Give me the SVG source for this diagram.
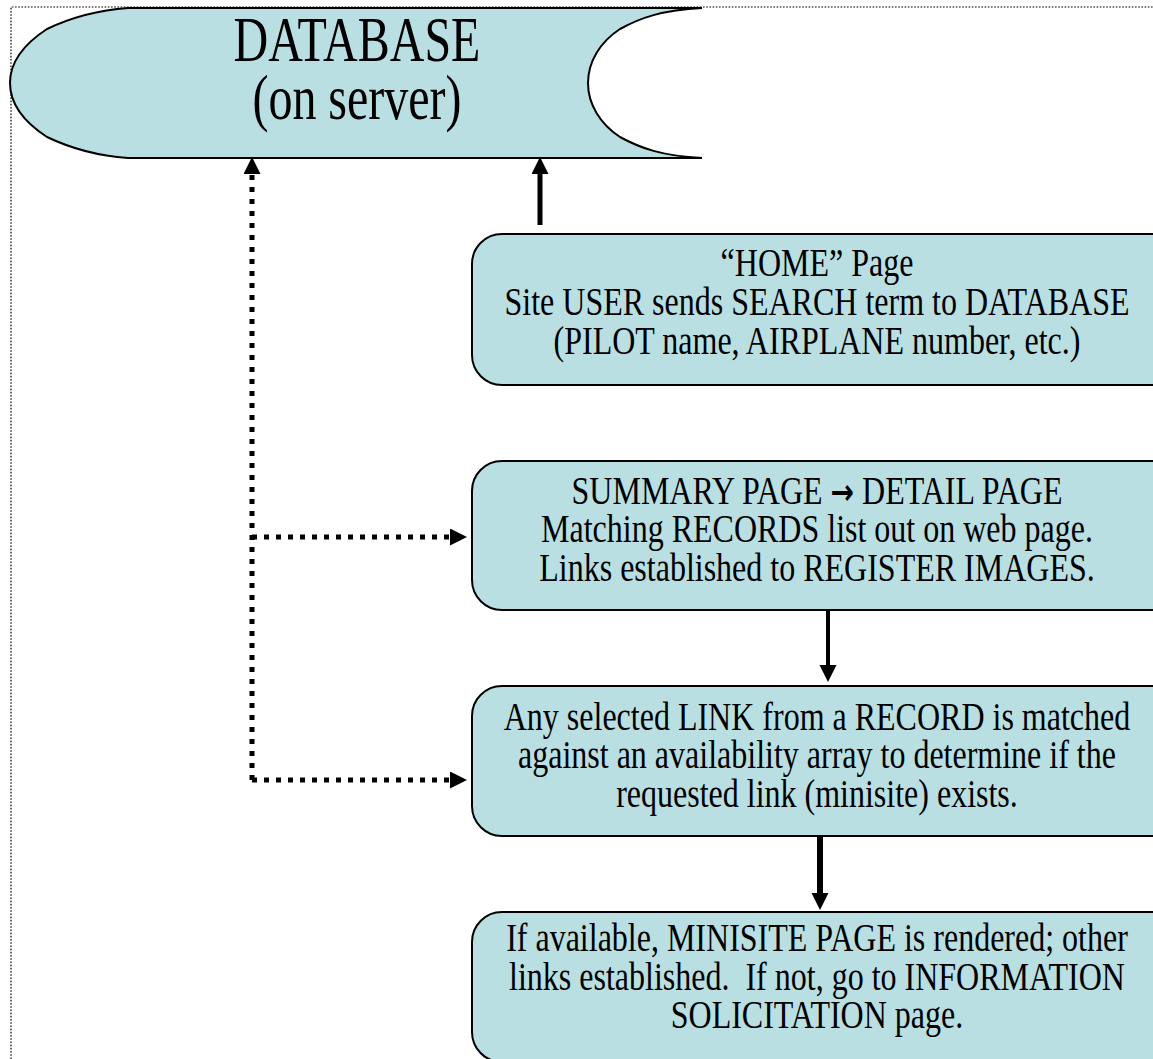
<svg xmlns="http://www.w3.org/2000/svg" width="1153" height="1059" viewBox="0 0 1153 1059">
  <style>
    .shape { fill: #b9dfe3; stroke: #000; stroke-width: 2; }
    .label { font-family: "Liberation Serif", "Times New Roman", serif; font-size: 32px; fill: #000; text-anchor: middle; }
    .big { font-size: 48px; }
    .sym { font-family: "DejaVu Sans", sans-serif; font-weight: bold; font-size: 28px; }
    .frame { fill: none; stroke: #000; stroke-width: 1.2; stroke-dasharray: 1.6 1.6; }
    .solid { fill: none; stroke: #000; }
    .dotted { fill: none; stroke: #000; stroke-width: 5; stroke-dasharray: 5 7; }
  </style>
  <defs>
    <marker id="head" markerUnits="userSpaceOnUse" markerWidth="18" markerHeight="18" refX="1" refY="8.5" orient="auto">
      <path d="M0,0 L17,8.5 L0,17 Z" fill="#000"/>
    </marker>
  </defs>

  <rect width="1153" height="1059" fill="#fff"/>

  <!-- page frame -->
  <path class="frame" d="M11,1059 V7 H1153"/>

  <!-- stored-data shape; text is stretched vertically about its baseline -->
  <g id="database">
    <path class="shape" d="M128,8 H702 C662,10 640,18 620,29 C600,42 588,62 588,83 C588,104 600,124 620,137 C640,148 662,156 702,158 H128 C100,156 70,148 47,137 C24,122 10,104 10,83 C10,62 24,44 47,29 C70,18 100,10 128,8 Z"/>
    <text class="label big" x="357" y="61" transform="matrix(1,0,0,1.3,0,-18.3)">DATABASE</text>
    <text class="label big" x="357" y="119" transform="matrix(1,0,0,1.3,0,-35.7)">(on server)</text>
  </g>

  <g id="home-page">
    <rect class="shape" x="472" y="234" width="710" height="151" rx="30" ry="30"/>
    <text class="label" x="817" y="276" transform="matrix(1,0,0,1.25,0,-69)">“HOME” Page</text>
    <text class="label" x="817" y="315" transform="matrix(1,0,0,1.25,0,-78.75)">Site USER sends SEARCH term to DATABASE</text>
    <text class="label" x="817" y="354" transform="matrix(1,0,0,1.25,0,-88.5)">(PILOT name, AIRPLANE number, etc.)</text>
  </g>

  <g id="summary-page">
    <rect class="shape" x="472" y="461" width="710" height="149" rx="30" ry="30"/>
    <text class="label" x="817" y="504" transform="matrix(1,0,0,1.25,0,-126)">SUMMARY PAGE <tspan class="sym">→</tspan> DETAIL PAGE</text>
    <text class="label" x="817" y="542" transform="matrix(1,0,0,1.25,0,-135.5)">Matching RECORDS list out on web page.</text>
    <text class="label" x="817" y="581" transform="matrix(1,0,0,1.25,0,-145.25)">Links established to REGISTER IMAGES.</text>
  </g>

  <g id="link-check">
    <rect class="shape" x="472" y="686" width="710" height="150" rx="30" ry="30"/>
    <text class="label" x="817" y="730" transform="matrix(1,0,0,1.25,0,-182.5)">Any selected LINK from a RECORD is matched</text>
    <text class="label" x="817" y="768" transform="matrix(1,0,0,1.25,0,-192)">against an availability array to determine if the</text>
    <text class="label" x="817" y="807" transform="matrix(1,0,0,1.25,0,-201.75)">requested link (minisite) exists.</text>
  </g>

  <g id="minisite-page">
    <rect class="shape" x="472" y="912" width="710" height="150" rx="30" ry="30"/>
    <text class="label" x="817" y="951" transform="matrix(1,0,0,1.25,0,-237.75)">If available, MINISITE PAGE is rendered; other</text>
    <text class="label" x="817" y="990" transform="matrix(1,0,0,1.25,0,-247.5)" xml:space="preserve">links established.  If not, go to INFORMATION</text>
    <text class="label" x="817" y="1028" transform="matrix(1,0,0,1.25,0,-257)">SOLICITATION page.</text>
  </g>

  <g id="connectors">
    <path class="dotted" d="M252,780 V173" marker-end="url(#head)"/>
    <path class="dotted" d="M252,537 H451" marker-end="url(#head)"/>
    <path class="dotted" d="M252,780 H451" marker-end="url(#head)"/>
    <path class="solid" stroke-width="5" d="M540,225 V173" marker-end="url(#head)"/>
    <path class="solid" stroke-width="4" d="M828,610 V666" marker-end="url(#head)"/>
    <path class="solid" stroke-width="6" d="M820,837 V894" marker-end="url(#head)"/>
  </g>
</svg>
